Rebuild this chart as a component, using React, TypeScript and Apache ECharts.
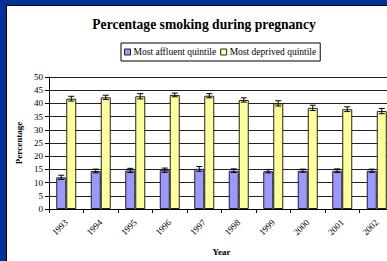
import React, { useEffect, useRef } from "react";
import * as echarts from "echarts";

const years = ["1993", "1994", "1995", "1996", "1997", "1998", "1999", "2000", "2001", "2002"];
const affluent = [12.0, 14.4, 14.6, 14.7, 15.2, 14.5, 14.3, 14.5, 14.5, 14.5];
const deprived = [41.8, 42.3, 42.7, 43.2, 42.9, 41.3, 40.0, 38.3, 37.8, 37.1];
const affluentErr = [0.8, 0.7, 0.8, 0.8, 0.9, 0.7, 0.6, 0.6, 0.7, 0.6];
const deprivedErr = [0.9, 0.8, 1.0, 0.7, 0.8, 0.8, 1.0, 1.0, 0.9, 1.0];
const yTicks = { min: 0, max: 50, interval: 5 };

const FONT = "'Liberation Serif', 'Times New Roman', serif";

function errorSeries(name: string, vals: number[], errs: number[], offset: number) {
  return {
    type: "custom",
    name: name + " err",
    z: 10,
    data: vals.map((v, i) => [i, v - errs[i], v + errs[i]]),
    encode: { x: 0, y: [1, 2] },
    renderItem: (params: any, api: any) => {
      const x = api.value(0);
      const lo = api.coord([x, api.value(1)]);
      const hi = api.coord([x, api.value(2)]);
      const cx = lo[0] + offset;
      const cap = 3;
      const style = { stroke: "#000", lineWidth: 1 };
      return {
        type: "group",
        children: [
          { type: "line", shape: { x1: cx, y1: lo[1], x2: cx, y2: hi[1] }, style },
          { type: "line", shape: { x1: cx - cap, y1: hi[1], x2: cx + cap, y2: hi[1] }, style },
          { type: "line", shape: { x1: cx - cap, y1: lo[1], x2: cx + cap, y2: lo[1] }, style },
        ],
      };
    },
    silent: true,
  };
}

export default function App() {
  const ref = useRef<HTMLDivElement>(null);
  useEffect(() => {
    if (!ref.current) return;
    const chart = echarts.init(ref.current, undefined, { renderer: "svg" });
    chart.setOption({
      animation: false,
      backgroundColor: "#003399",
      textStyle: { fontFamily: FONT },
      graphic: [
        {
          type: "rect",
          shape: { x: 6.5, y: 5.5, width: 420, height: 300 },
          style: { fill: "#fff", stroke: "#000", lineWidth: 1 },
          z: -10,
        },
        {
          type: "text",
          x: 204,
          y: 24,
          style: {
            text: "Percentage smoking during pregnancy",
            font: "bold 13.6px " + FONT,
            fill: "#000",
            textAlign: "center",
            textVerticalAlign: "middle",
          },
        },
      ],
      legend: {
        left: 121,
        top: 43,
        orient: "horizontal",
        borderColor: "#000",
        borderWidth: 1,
        borderRadius: 0,
        padding: [4, 4, 4, 3],
        itemWidth: 6,
        itemHeight: 6,
        itemGap: 4,
        icon: "rect",
        itemStyle: { borderColor: "#222", borderWidth: 1 },
        textStyle: { fontFamily: FONT, fontSize: 9.5, color: "#000", padding: [0, 0, 0, -2] },
        data: ["Most affluent quintile", "Most deprived quintile"],
      },
      grid: { left: 49, top: 77, right: 6, bottom: 47, containLabel: false },
      xAxis: {
        type: "category",
        data: years,
        name: "Year",
        nameLocation: "middle",
        nameGap: 38,
        nameTextStyle: { fontFamily: FONT, fontSize: 9, fontWeight: "bold", color: "#000" },
        axisLine: { lineStyle: { color: "#000", width: 1 } },
        axisTick: { show: true, length: 4, lineStyle: { color: "#000" } },
        axisLabel: { rotate: 45, fontFamily: FONT, fontSize: 9, color: "#000", margin: 12 },
      },
      yAxis: {
        type: "value",
        min: yTicks.min,
        max: yTicks.max,
        interval: yTicks.interval,
        name: "Percentage",
        nameLocation: "middle",
        nameGap: 24,
        nameTextStyle: { fontFamily: FONT, fontSize: 9, fontWeight: "bold", color: "#000" },
        axisLine: { show: true, lineStyle: { color: "#000", width: 1 } },
        axisTick: { show: true, length: 4, lineStyle: { color: "#000" } },
        axisLabel: { fontFamily: FONT, fontSize: 9, color: "#000", margin: 6 },
        splitLine: { show: true, lineStyle: { color: "#222", width: 1 } },
      },
      series: [
        {
          type: "bar",
          name: "Most affluent quintile",
          data: affluent,
          barWidth: 10,
          barGap: "0%",
          itemStyle: { color: "#9999FF", borderColor: "#222", borderWidth: 1 },
        },
        {
          type: "bar",
          name: "Most deprived quintile",
          data: deprived,
          barWidth: 10,
          barGap: "0%",
          itemStyle: { color: "#FFFF99", borderColor: "#222", borderWidth: 1 },
        },
        errorSeries("Most affluent quintile", affluent, affluentErr, -5),
        errorSeries("Most deprived quintile", deprived, deprivedErr, 5),
      ],
    });
    return () => chart.dispose();
  }, []);
  return (
    <div style={{ position: "absolute", left: 0, top: 0, width: 387, height: 261, overflow: "hidden" }}>
      <div ref={ref} style={{ position: "absolute", left: 0, top: 0, width: 400, height: 261 }} />
    </div>
  );
}
